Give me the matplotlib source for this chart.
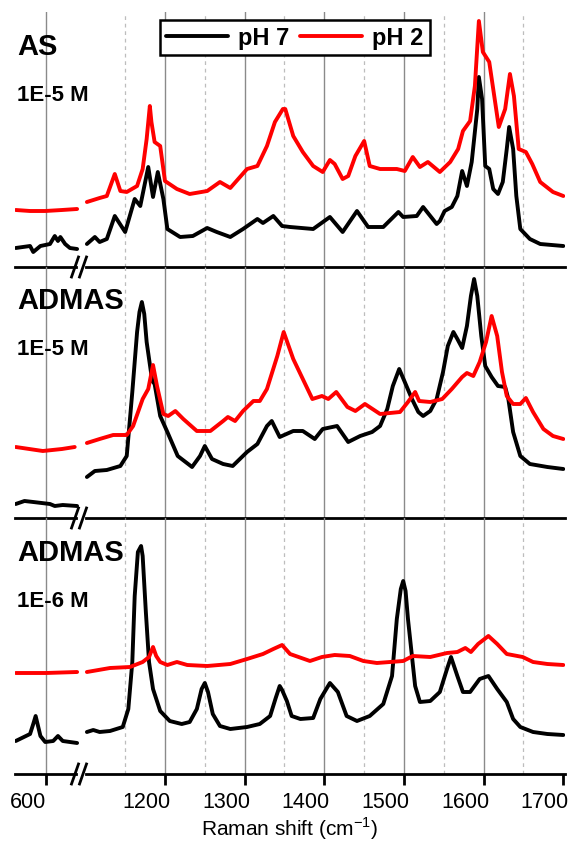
import matplotlib
matplotlib.use('Agg')
import matplotlib.pyplot as plt
from matplotlib.lines import Line2D
from matplotlib.transforms import ScaledTranslation

plt.rcParams['font.family'] = ['Liberation Sans', 'DejaVu Sans']
plt.rcParams['mathtext.fontset'] = 'custom'
plt.rcParams['mathtext.rm'] = 'Liberation Sans'

# ---- datos (Raman shift en cm-1, intensidad en u.a.) ----
# panel 1: AS 1E-5 M
as_ph7_low_x = [562, 580, 584, 593, 605, 611, 615, 618, 624, 630, 639]
as_ph7_low_y = [19, 21, 15, 21, 23, 31, 26, 30, 23, 19, 18]
as_ph2_low_x = [562, 580, 599, 620, 639]
as_ph2_low_y = [57, 56, 56, 57, 58]
as_ph7_x = [1102, 1112, 1118, 1127, 1137, 1150, 1162, 1169, 1179, 1185, 1191, 1198, 1203, 1219, 1235,
            1253, 1265, 1282, 1298, 1316, 1323, 1336, 1347, 1357, 1386, 1407, 1423, 1441, 1455, 1474,
            1493, 1499, 1516, 1524, 1541, 1545, 1551, 1560, 1567, 1573, 1579, 1585, 1592, 1594, 1598,
            1602, 1607, 1612, 1618, 1624, 1629, 1632, 1637, 1641, 1646, 1658, 1671, 1700]
as_ph7_y = [23, 30, 25, 28, 51, 35, 68, 61, 100, 70, 95, 68, 38, 30, 31,
            39, 35, 30, 38, 48, 44, 51, 41, 40, 38, 50, 35, 56, 40, 40,
            55, 50, 51, 60, 43, 46, 56, 60, 71, 96, 81, 105, 158, 190, 168,
            101, 98, 78, 73, 85, 118, 140, 118, 71, 38, 28, 23, 21]
as_ph2_x = [1102, 1118, 1127, 1137, 1144, 1152, 1165, 1172, 1177, 1181, 1183, 1187, 1194, 1200, 1215,
            1231, 1253, 1269, 1282, 1303, 1316, 1328, 1338, 1348, 1351, 1361, 1373, 1386, 1398, 1407,
            1413, 1423, 1430, 1439, 1450, 1457, 1470, 1491, 1501, 1511, 1520, 1530, 1545, 1558, 1568,
            1574, 1583, 1589, 1594, 1599, 1607, 1612, 1619, 1627, 1633, 1638, 1644, 1653, 1661, 1671,
            1687, 1700]
as_ph2_y = [65, 69, 71, 93, 76, 75, 81, 98, 128, 161, 145, 125, 121, 86, 78,
            73, 76, 85, 79, 98, 101, 121, 145, 158, 158, 131, 115, 101, 95, 107,
            103, 88, 91, 111, 126, 101, 98, 98, 96, 110, 100, 105, 95, 105, 118,
            136, 146, 181, 246, 215, 205, 178, 140, 158, 193, 171, 118, 115, 103, 85,
            75, 71]

# panel 2: ADMAS 1E-5 M
ad5_ph7_low_x = [562, 573, 584, 605, 611, 621, 639]
ad5_ph7_low_y = [14, 17, 16, 14, 12, 13, 12]
ad5_ph2_low_x = [562, 596, 620, 636]
ad5_ph2_low_y = [71, 67, 69, 71]
ad5_ph7_x = [1102, 1112, 1127, 1144, 1152, 1159, 1165, 1168, 1171, 1174, 1177, 1184, 1187, 1194, 1203,
             1216, 1234, 1244, 1250, 1259, 1273, 1285, 1303, 1316, 1328, 1334, 1344, 1361, 1373, 1388,
             1398, 1416, 1423, 1430, 1445, 1460, 1470, 1479, 1486, 1494, 1501, 1510, 1518, 1524, 1533,
             1541, 1549, 1555, 1562, 1567, 1573, 1579, 1584, 1588, 1592, 1597, 1602, 1610, 1618, 1627,
             1631, 1637, 1646, 1658, 1680, 1700]
ad5_ph7_y = [41, 47, 48, 52, 62, 126, 186, 206, 216, 204, 176, 137, 134, 102, 86,
             62, 51, 62, 72, 59, 54, 52, 66, 74, 92, 97, 81, 87, 87, 79,
             89, 92, 84, 76, 82, 86, 92, 109, 132, 149, 136, 119, 106, 102, 107,
             119, 146, 172, 186, 179, 170, 192, 222, 239, 222, 182, 152, 141, 132, 131,
             119, 86, 62, 54, 51, 49]
ad5_ph2_x = [1102, 1118, 1135, 1152, 1160, 1172, 1179, 1185, 1190, 1198, 1204, 1213, 1223, 1240, 1257,
             1273, 1279, 1288, 1298, 1311, 1319, 1328, 1341, 1349, 1361, 1373, 1385, 1397, 1405, 1415,
             1429, 1439, 1451, 1470, 1495, 1505, 1514, 1519, 1533, 1548, 1560, 1573, 1579, 1587, 1595,
             1603, 1610, 1617, 1623, 1629, 1637, 1646, 1653, 1662, 1675, 1687, 1700]
ad5_ph2_y = [75, 79, 83, 83, 92, 119, 129, 153, 132, 104, 102, 107, 99, 87, 87,
             97, 101, 97, 107, 117, 117, 129, 162, 186, 159, 139, 119, 122, 119, 126,
             111, 107, 114, 104, 106, 116, 126, 117, 116, 119, 129, 141, 145, 142, 156,
             176, 202, 182, 146, 122, 114, 114, 120, 106, 89, 82, 79]

# panel 3: ADMAS 1E-6 M
ad6_ph7_low_x = [562, 580, 584, 587, 590, 593, 599, 609, 615, 621, 639]
ad6_ph7_low_y = [33, 40, 50, 58, 48, 38, 32, 33, 38, 33, 31]
ad6_ph2_low_x = [562, 600, 639]
ad6_ph2_low_y = [101, 101, 102]
ad6_ph7_x = [1102, 1110, 1118, 1131, 1147, 1154, 1159, 1162, 1166, 1170, 1172, 1176, 1180, 1185, 1194,
             1206, 1221, 1231, 1240, 1246, 1250, 1254, 1260, 1269, 1282, 1303, 1319, 1332, 1339, 1344,
             1347, 1353, 1359, 1370, 1386, 1395, 1407, 1417, 1428, 1441, 1457, 1474, 1485, 1491, 1496,
             1499, 1502, 1505, 1514, 1520, 1533, 1545, 1554, 1559, 1567, 1574, 1583, 1595, 1606, 1617,
             1629, 1637, 1646, 1662, 1680, 1700]
ad6_ph7_y = [42, 44, 42, 43, 47, 65, 112, 178, 222, 228, 218, 162, 112, 85, 63,
             53, 50, 52, 65, 85, 91, 82, 60, 48, 45, 47, 50, 58, 76, 88,
             84, 73, 58, 55, 56, 75, 91, 82, 58, 53, 58, 70, 98, 155, 185,
             193, 183, 155, 88, 72, 73, 82, 105, 117, 98, 82, 82, 95, 98, 85,
             72, 55, 47, 42, 40, 39]
ad6_ph2_x = [1102, 1131, 1156, 1172, 1180, 1185, 1189, 1194, 1203, 1215, 1228, 1253, 1282, 1303, 1323,
             1336, 1347, 1357, 1382, 1397, 1413, 1432, 1449, 1466, 1499, 1511, 1533, 1554, 1567, 1577,
             1584, 1593, 1606, 1617, 1629, 1649, 1662, 1680, 1700]
ad6_ph2_y = [102, 106, 107, 112, 117, 127, 118, 112, 109, 112, 109, 108, 110, 115, 120,
             125, 129, 120, 113, 117, 119, 118, 113, 111, 113, 118, 117, 121, 122, 126,
             122, 130, 138, 130, 120, 117, 112, 110, 109]

titulos = ['AS', 'ADMAS', 'ADMAS']
concentraciones = ['1E-5 M', '1E-5 M', '1E-6 M']
low_ticks = [600]
high_ticks = [1200, 1300, 1400, 1500, 1600, 1700]
grid_major = [1200, 1300, 1400, 1500, 1600]
grid_minor = [1150, 1250, 1350, 1450, 1550, 1650]

paneles = [
    (as_ph7_low_x, as_ph7_low_y, as_ph2_low_x, as_ph2_low_y, as_ph7_x, as_ph7_y, as_ph2_x, as_ph2_y),
    (ad5_ph7_low_x, ad5_ph7_low_y, ad5_ph2_low_x, ad5_ph2_low_y, ad5_ph7_x, ad5_ph7_y, ad5_ph2_x, ad5_ph2_y),
    (ad6_ph7_low_x, ad6_ph7_low_y, ad6_ph2_low_x, ad6_ph2_low_y, ad6_ph7_x, ad6_ph7_y, ad6_ph2_x, ad6_ph2_y),
]

# ---- figura ----
W, H = 574, 845
fig = plt.figure(figsize=(W / 100, H / 100), dpi=100)

def fx(p):
    return p / W

def fy(p):
    return 1 - p / H

rows = [13, 268, 519, 775]      # limites de paneles (px)
x_left, x_break, x_right = 15, 81, 565
lw = 2.8
estilo = dict(lw=lw, solid_joinstyle='round', solid_capstyle='round')

for i, datos in enumerate(paneles):
    l7x, l7y, l2x, l2y, h7x, h7y, h2x, h2y = datos
    top, bot = rows[i], rows[i + 1]
    axl = fig.add_axes([fx(x_left), fy(bot), fx(x_break - x_left), (bot - top) / H])
    axr = fig.add_axes([fx(x_break), fy(bot), fx(x_right - x_break), (bot - top) / H])
    for ax in (axl, axr):
        ax.patch.set_visible(False)
        ax.set_ylim(0, bot - top)
        ax.set_yticks([])
        for s in ('top', 'left', 'right'):
            ax.spines[s].set_visible(False)
        ax.spines['bottom'].set_linewidth(2)
    axl.set_xlim(561.1, 643.9)
    axr.set_xlim(1094.6, 1702.1)
    axl.spines['bottom'].set_bounds(561.1, 637.5)
    axr.spines['bottom'].set_bounds(1101, 1702.1)

    # grid
    axl.axvline(600, color='#8a8a8a', lw=1, zorder=0)
    for g in grid_major:
        axr.axvline(g, color='#8a8a8a', lw=1, zorder=0)
    for g in grid_minor:
        axr.axvline(g, color='#bdbdbd', lw=0.9, ls=(0, (3, 3)), zorder=0)

    axl.plot(l2x, l2y, color='red', **estilo)
    axl.plot(l7x, l7y, color='black', **estilo)
    axr.plot(h7x, h7y, color='black', label='pH 7', **estilo)
    axr.plot(h2x, h2y, color='red', label='pH 2', **estilo)

    if i == 2:
        axl.set_xticks(low_ticks)
        axr.set_xticks(high_ticks)
        desplaza = ScaledTranslation(-0.185, 0, fig.dpi_scale_trans)
        for ax in (axl, axr):
            ax.tick_params(axis='x', direction='out', length=8, width=2, labelsize=15.5, pad=4)
            for lab in ax.get_xticklabels():
                lab.set_transform(lab.get_transform() + desplaza)
    else:
        axl.set_xticks([])
        axr.set_xticks([])

    # etiquetas de panel
    h = bot - top
    fig.text(fx(17), fy(bot - h * 0.835), titulos[i], fontsize=21, fontweight='bold', va='baseline')
    fig.text(fx(17), fy(bot - h * 0.655), concentraciones[i], fontsize=16, fontweight='bold', va='baseline')

    # marcas de corte //
    for cx in (75, 83):
        fig.add_artist(Line2D([fx(cx - 3.5), fx(cx + 3.5)], [fy(bot + 10), fy(bot - 10)],
                              color='black', lw=2))

    if i == 0:
        leg = axr.legend(loc='upper center', bbox_to_anchor=(fx(295), fy(21)),
                         bbox_transform=fig.transFigure, ncol=2, fancybox=False,
                         edgecolor='black', framealpha=1, borderpad=0.25, borderaxespad=0,
                         handlelength=2.6, handletextpad=0.45, columnspacing=0.45,
                         prop={'weight': 'bold', 'size': 17})
        leg.get_frame().set_linewidth(1.8)

fig.text(fx(290), fy(829), 'Raman shift (cm$^{\\mathregular{-1}}$)', fontsize=15,
         ha='center', va='center')

plt.savefig('out.png', dpi=100)
